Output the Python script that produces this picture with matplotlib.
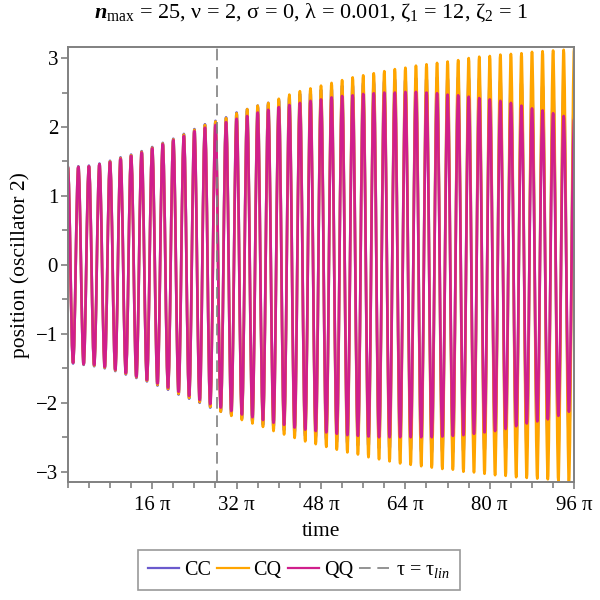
import numpy as np
import matplotlib
matplotlib.use("Agg")
import matplotlib.pyplot as plt
from matplotlib.lines import Line2D
from matplotlib.path import Path
from matplotlib.patches import PathPatch
from matplotlib.ticker import FixedLocator, MultipleLocator

plt.rcParams["font.family"] = ["Liberation Serif", "DejaVu Serif"]
plt.rcParams["mathtext.fontset"] = "custom"
plt.rcParams["mathtext.rm"] = "Liberation Serif"
plt.rcParams["mathtext.it"] = "Liberation Serif:italic"
plt.rcParams["mathtext.bf"] = "Liberation Serif:bold:italic"

# ── data ─────────────────────────────────────────────────────────────────────
# extrema of position(oscillator 2): maxima at t = 2k*pi, minima at t = (2k+1)*pi
cc_max = [1.43, 1.43, 1.44, 1.47, 1.51, 1.56, 1.60, 1.65, 1.71, 1.77, 1.83, 1.90,
          1.97, 2.04, 2.09, 2.14, 2.21, 2.26, 2.31, 2.35, 2.40, 2.44, 2.48, 2.51,
          2.54, 2.57, 2.60, 2.62, 2.64, 2.66, 2.68, 2.69, 2.70, 2.71, 2.72, 2.72,
          2.72, 2.72, 2.72, 2.71, 2.70, 2.69, 2.68, 2.66, 2.64, 2.62, 2.60, 2.57, 2.55]
cc_min = [-1.43, -1.45, -1.47, -1.50, -1.54, -1.59, -1.64, -1.69, -1.75, -1.81, -1.88, -1.94,
          -2.00, -2.07, -2.13, -2.18, -2.23, -2.28, -2.32, -2.36, -2.40, -2.44, -2.48, -2.51,
          -2.54, -2.57, -2.60, -2.62, -2.64, -2.66, -2.68, -2.69, -2.70, -2.71, -2.72, -2.72,
          -2.72, -2.72, -2.72, -2.71, -2.70, -2.69, -2.68, -2.66, -2.64, -2.62, -2.60, -2.57]

cq_max = [1.42, 1.42, 1.43, 1.46, 1.50, 1.55, 1.59, 1.64, 1.70, 1.76, 1.82, 1.89,
          1.96, 2.03, 2.08, 2.13, 2.20, 2.26, 2.31, 2.35, 2.41, 2.47, 2.52, 2.56,
          2.60, 2.64, 2.68, 2.72, 2.75, 2.78, 2.81, 2.84, 2.86, 2.89, 2.91, 2.93,
          2.95, 2.97, 3.00, 3.02, 3.03, 3.05, 3.06, 3.07, 3.09, 3.10, 3.11, 3.12, 3.14]
cq_min = [-1.42, -1.44, -1.46, -1.49, -1.53, -1.58, -1.63, -1.68, -1.74, -1.80, -1.87, -1.93,
          -1.99, -2.06, -2.13, -2.19, -2.25, -2.30, -2.35, -2.41, -2.46, -2.51, -2.56, -2.60,
          -2.64, -2.68, -2.72, -2.75, -2.79, -2.82, -2.85, -2.88, -2.90, -2.92, -2.94, -2.96,
          -2.97, -3.00, -3.01, -3.03, -3.05, -3.06, -3.08, -3.09, -3.10, -3.11, -3.13, -3.14]

qq_max = [1.42, 1.42, 1.43, 1.46, 1.49, 1.54, 1.58, 1.63, 1.69, 1.75, 1.81, 1.87,
          1.94, 1.99, 2.03, 2.07, 2.12, 2.16, 2.21, 2.25, 2.29, 2.32, 2.35, 2.38,
          2.40, 2.43, 2.45, 2.46, 2.48, 2.49, 2.50, 2.50, 2.51, 2.51, 2.50, 2.49,
          2.47, 2.46, 2.44, 2.42, 2.40, 2.38, 2.35, 2.31, 2.27, 2.24, 2.20, 2.16, 2.12]
qq_min = [-1.42, -1.44, -1.45, -1.48, -1.52, -1.57, -1.62, -1.67, -1.72, -1.78, -1.84, -1.90,
          -1.96, -2.02, -2.07, -2.12, -2.17, -2.21, -2.25, -2.29, -2.32, -2.36, -2.39, -2.41,
          -2.43, -2.45, -2.47, -2.48, -2.49, -2.50, -2.50, -2.50, -2.50, -2.50, -2.50, -2.49,
          -2.48, -2.47, -2.45, -2.43, -2.41, -2.38, -2.34, -2.30, -2.27, -2.24, -2.19, -2.13]

tau_lin = 28.2 * np.pi
x_tick_mult = [16, 32, 48, 64, 80, 96]
y_ticks = [-3, -2, -1, 0, 1, 2, 3]

COLORS = {"CC": "#6a5acd", "CQ": "#ffa500", "QQ": "#d01f8c"}
LW = 1.9


def smooth_path(maxima, minima):
    """Path through the extrema (t = j*pi) drawn with flat-tangent Bezier arcs."""
    y = np.empty(len(maxima) + len(minima))
    y[0::2] = maxima
    y[1::2] = minima
    t = np.pi * np.arange(len(y))
    c = 1 - 2 / np.pi          # control-point offset giving a cosine-like arc
    verts = [(t[0], y[0])]
    codes = [Path.MOVETO]
    for i in range(1, len(t)):
        h = t[i] - t[i - 1]
        verts += [(t[i - 1] + c * h, y[i - 1]), (t[i] - c * h, y[i]), (t[i], y[i])]
        codes += [Path.CURVE4] * 3
    return Path(verts, codes)


fig = plt.figure(figsize=(6, 6), dpi=100)
ax = fig.add_axes([0.113, 0.196, 0.844, 0.725])

handles = []
for name, mx, mn in [("CC", cc_max, cc_min), ("CQ", cq_max, cq_min), ("QQ", qq_max, qq_min)]:
    ax.add_patch(PathPatch(smooth_path(mx, mn), fill=False, edgecolor=COLORS[name],
                           lw=LW, joinstyle="round", capstyle="round"))
    handles.append(Line2D([], [], color=COLORS[name], lw=1.6, label=name))

dash = ax.axvline(tau_lin, color="#808080", lw=1.2, ls=(0, (7, 4)),
                  label="τ = τ$_{\\mathit{lin}}$")
handles.append(dash)

ax.set_xlim(0, 96 * np.pi)
ax.set_ylim(-3.155, 3.155)

ax.xaxis.set_major_locator(FixedLocator([m * np.pi for m in x_tick_mult]))
ax.set_xticklabels([f"{m} π" for m in x_tick_mult])
ax.xaxis.set_minor_locator(MultipleLocator(4 * np.pi))
ax.yaxis.set_major_locator(FixedLocator(y_ticks))
ax.set_yticklabels([f"−{abs(v)}" if v < 0 else f"{v}" for v in y_ticks])
ax.yaxis.set_minor_locator(MultipleLocator(0.5))

for s in ax.spines.values():
    s.set_color("#808080")
    s.set_linewidth(1.4)
ax.tick_params(which="both", colors="#808080", labelcolor="black", labelsize=15,
               direction="out", width=1.2)
ax.tick_params(which="major", length=5)
ax.tick_params(which="minor", length=4)
ax.tick_params(axis="x", which="major", pad=5)
ax.tick_params(axis="y", which="major", pad=2)

ax.set_xlabel("time", fontsize=15.5, labelpad=5)
ax.set_ylabel("position (oscillator 2)", fontsize=15.5, labelpad=4)
ax.set_title("$\\mathbf{n}_{\\mathrm{max}}$ = 25, ν = 2, σ = 0, λ = 0.001, "
             "ζ$_1$ = 12, ζ$_2$ = 1", fontsize=16, pad=21, x=0.48)

leg = fig.legend(handles=handles, loc="center", bbox_to_anchor=(0.498, 0.05),
                 ncol=4, fontsize=14.5, frameon=True, fancybox=False,
                 handlelength=1.55, handletextpad=0.25, columnspacing=0.3,
                 borderpad=0.5, borderaxespad=0)
leg.get_frame().set_edgecolor("#808080")
leg.get_frame().set_linewidth(1.2)

fig.savefig("out.png", dpi=100)
